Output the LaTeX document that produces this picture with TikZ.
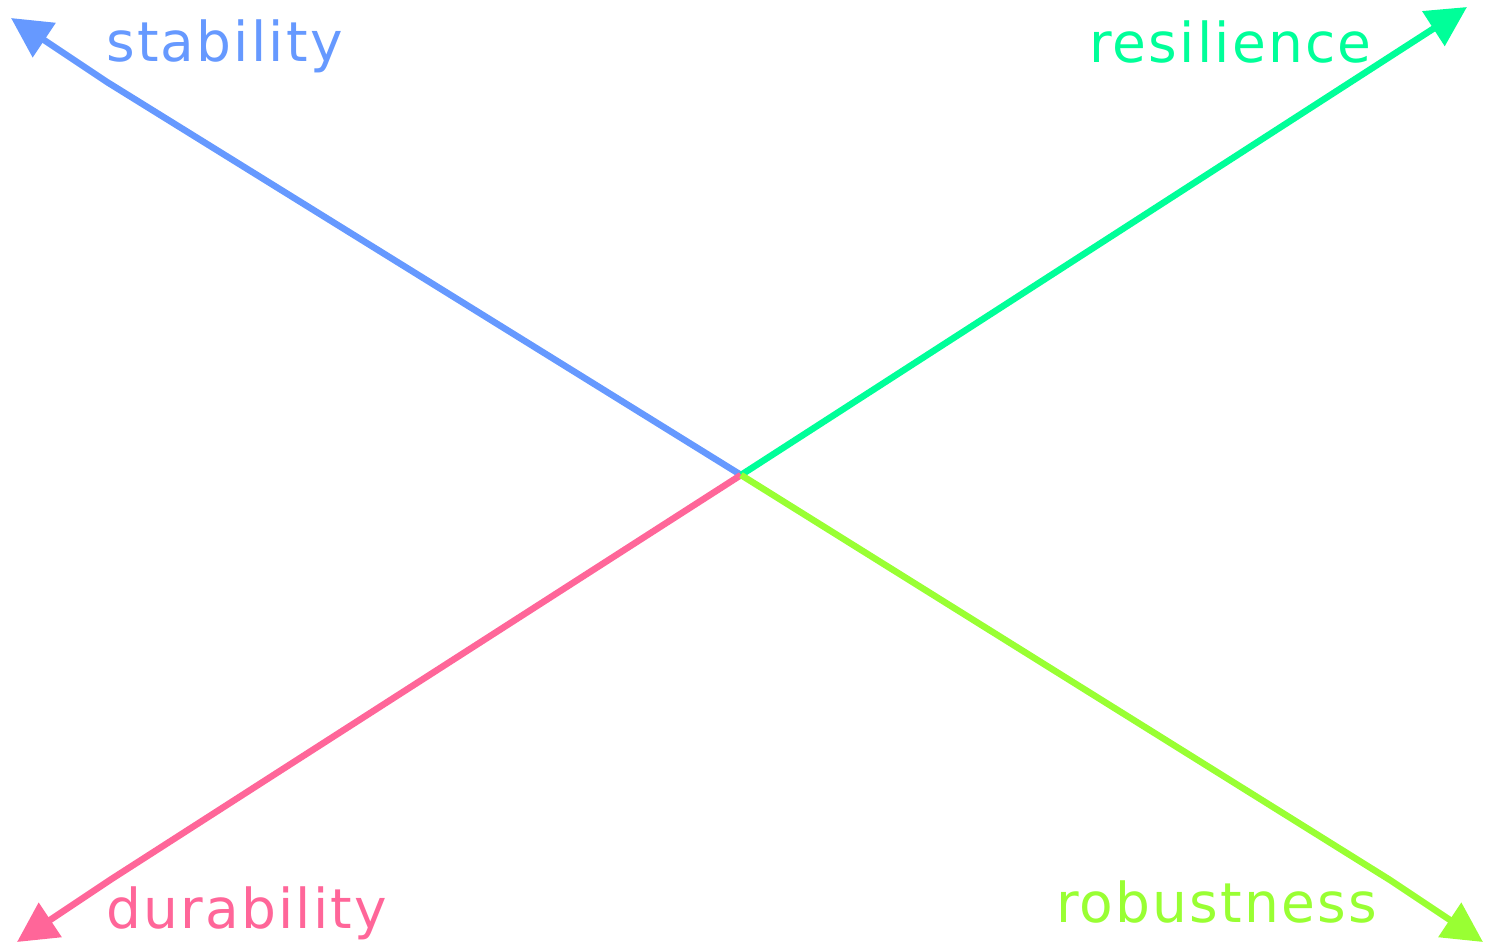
\documentclass[tikz,border=0pt]{standalone}
\usepackage{fontspec}
\setmainfont{DejaVu Sans}[LetterSpace=4]
\usetikzlibrary{arrows.meta}
\definecolor{cstab}{HTML}{6699FF}
\definecolor{cres}{HTML}{00FF99}
\definecolor{cdur}{HTML}{FF6699}
\definecolor{crob}{HTML}{99FF33}
\tikzset{
  axis/.style={line width=6.5pt, -{Triangle[length=40pt,width=40pt]}},
  lbl/.style={font=\fontsize{55}{60}\selectfont, inner sep=0pt, anchor=base west}
}
\begin{document}
\begin{tikzpicture}[x=1pt,y=-1pt]
\useasboundingbox (0,0) rectangle (1494,943);
\coordinate (c) at (741,475);
\coordinate (ks) at (107,82);
\coordinate (ts) at (11,18);
\coordinate (tr) at (1467,7);
\coordinate (kd) at (110,880);
\coordinate (td) at (17,942);
\coordinate (kb) at (1390,880);
\coordinate (tb) at (1483,942);
\draw[axis, cstab] (c) -- (ks) -- (ts);
\draw[axis, cres] (c) -- (tr);
\draw[axis, cdur] (c) -- (kd) -- (td);
\draw[axis, crob] (c) -- (kb) -- (tb);
\node[lbl, text=cstab] (ls) at (106,61) {stability};
\node[lbl, text=cres] (lr) at (1089,62) {resilience};
\node[lbl, text=cdur] (ld) at (106,928) {durability};
\node[lbl, text=crob] (lb) at (1056,922) {robustness};
\end{tikzpicture}
\end{document}
